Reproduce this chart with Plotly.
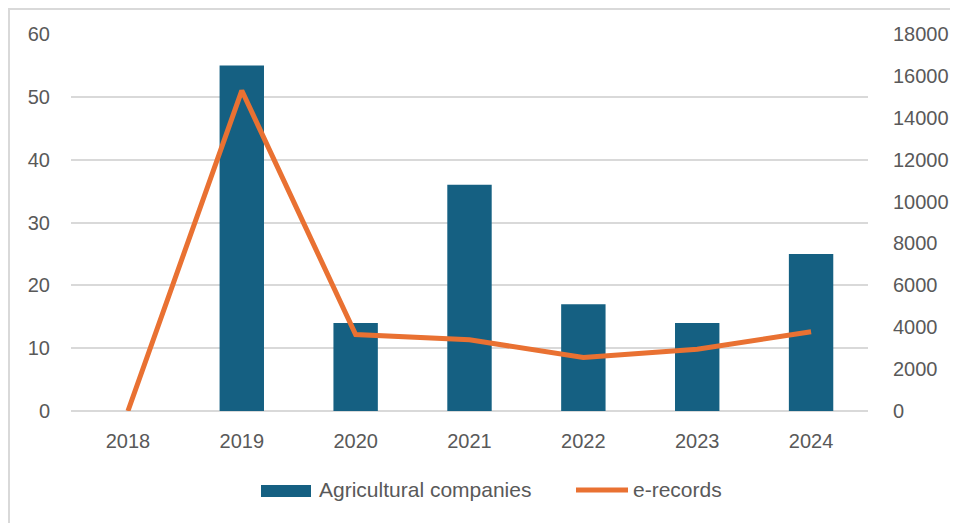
import plotly.graph_objects as go

years = ["2018", "2019", "2020", "2021", "2022", "2023", "2024"]
companies = [0, 55, 14, 36, 17, 14, 25]
erecords = [0, 15300, 3650, 3400, 2550, 2950, 3780]
series_names = ["Agricultural companies", "e-records"]

font_family = "'Liberation Sans', Arial, sans-serif"
text_col = "#595959"
bar_col = "#156082"
line_col = "#E97132"

fig = go.Figure()
fig.add_trace(go.Bar(
    x=years, y=companies, name=series_names[0],
    marker=dict(color=bar_col, line=dict(width=0)),
    width=0.39, yaxis="y", showlegend=False))
fig.add_trace(go.Scatter(
    x=years, y=erecords, name=series_names[1], mode="lines",
    line=dict(color=line_col, width=5), yaxis="y2", showlegend=False))

PW, PH = 797, 377
L, T = 71, 34  # plot-area origin in page pixels


def px(x):
    return (x - L) / PW


def py(y):
    return (T + PH - y) / PH


shapes = [
    dict(type="rect", xref="paper", yref="paper",
         x0=-62/PW, x1=1 + 120/PW, y0=-140/PH, y1=1 + 25/PH,
         line=dict(color="#D9D9D9", width=2), fillcolor="rgba(0,0,0,0)", layer="below"),
    # custom legend keys
    dict(type="rect", xref="paper", yref="paper",
         x0=px(261), x1=px(311), y0=py(497), y1=py(485),
         line=dict(width=0), fillcolor=bar_col),
    dict(type="line", xref="paper", yref="paper",
         x0=px(576), x1=px(628), y0=py(490), y1=py(490),
         line=dict(color=line_col, width=5)),
]
annotations = [
    dict(xref="paper", yref="paper", x=px(317), y=py(490), xanchor="left", yanchor="middle",
         text=series_names[0], showarrow=False, font=dict(size=21, color=text_col)),
    dict(xref="paper", yref="paper", x=px(631), y=py(490), xanchor="left", yanchor="middle",
         text=series_names[1], showarrow=False, font=dict(size=21, color=text_col)),
]

fig.update_layout(
    width=950, height=515,
    margin=dict(l=63, r=90, t=26, b=112, autoexpand=False),
    paper_bgcolor="white", plot_bgcolor="white",
    font=dict(family=font_family, size=20, color=text_col),
    showlegend=False,
    xaxis=dict(showgrid=False, showline=False, ticks="", ticklabelstandoff=16,
               tickfont=dict(size=20)),
    yaxis=dict(range=[0, 60], dtick=10, showgrid=True, gridcolor="#D9D9D9", gridwidth=1.5,
               zeroline=True, zerolinecolor="#D9D9D9", zerolinewidth=1.5,
               ticks="", ticklabelstandoff=20, tickfont=dict(size=20)),
    yaxis2=dict(range=[0, 18000], dtick=2000, overlaying="y", side="right",
                showgrid=False, zeroline=False, ticks="", ticklabelstandoff=24,
                tickformat="d", tickfont=dict(size=20)),
    shapes=shapes,
    annotations=annotations,
)

fig.write_html("out.html")
